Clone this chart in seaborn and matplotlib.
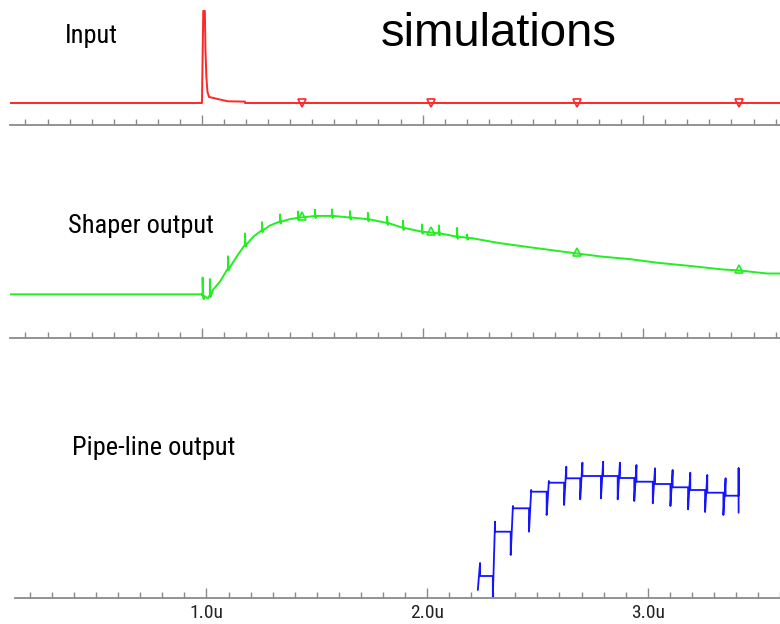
import numpy as np
import pandas as pd
import seaborn as sns
import matplotlib.pyplot as plt
from matplotlib import font_manager
from matplotlib.ticker import MultipleLocator

# time axis in microseconds
x_min, x_max = 0.13, 3.62

# Input pulse (normalised amplitude)
input_t = [0.13, 1.000, 1.003, 1.006, 1.013, 1.016, 1.020, 1.025, 1.032, 1.059, 1.082, 1.118, 1.195, 1.195, 3.62]
input_v = [0.0, 0.0, 0.50, 0.99, 0.99, 0.57, 0.28, 0.12, 0.065, 0.050, 0.037, 0.018, 0.015, 0.0, 0.0]

# Shaper output (normalised amplitude)
shaper_t = [0.13, 1.000, 1.009, 1.027, 1.051, 1.082, 1.119, 1.157, 1.195, 1.233, 1.271, 1.308, 1.354,
            1.399, 1.444, 1.520, 1.594, 1.748, 1.852, 1.911, 2.002, 2.079, 2.156, 2.228, 2.337, 2.455,
            2.564, 2.700, 2.818, 2.940, 3.063, 3.212, 3.362, 3.430, 3.561, 3.62]
shaper_v = [0.0, 0.0, -0.06, -0.05, 0.06, 0.16, 0.33, 0.47, 0.62, 0.72, 0.80, 0.86, 0.91,
            0.94, 0.96, 0.98, 0.98, 0.94, 0.885, 0.83, 0.78, 0.76, 0.72, 0.70, 0.645, 0.60,
            0.56, 0.51, 0.47, 0.44, 0.395, 0.355, 0.31, 0.30, 0.26, 0.26]
# clock feed-through glitches on the shaper
glitch_t = [1.003, 1.036, 1.118, 1.195, 1.272, 1.354, 1.435, 1.512, 1.589, 1.671, 1.752, 1.839,
            1.911, 1.997, 2.074, 2.156, 2.201]
glitch_h = [0.23, 0.20, 0.15, 0.14, 0.10, 0.09, 0.08, 0.08, 0.08, 0.08, 0.08, 0.08,
            0.09, 0.09, 0.10, 0.11, 0.04]

# Pipe-line output: clock edges, settled level, down / up glitch
pipe_t = [2.230, 2.298, 2.379, 2.462, 2.542, 2.621, 2.694, 2.788, 2.864, 2.939, 3.023, 3.103, 3.183, 3.260, 3.343]
pipe_level = [0.22, 0.663, 0.897, 1.063, 1.153, 1.197, 1.22, 1.22, 1.20, 1.163, 1.14, 1.107, 1.08, 1.053, 1.023]
pipe_low = [0.08, 0.013, 0.43, 0.663, 0.83, 0.93, 0.987, 0.997, 0.987, 0.97, 0.947, 0.92, 0.887, 0.86, 0.83]
pipe_high = [0.35, 0.763, 0.92, 1.08, 1.17, 1.313, 1.353, 1.363, 1.353, 1.33, 1.297, 1.28, 1.253, 1.23, 1.197]
pipe_end_t, pipe_end_low, pipe_end_high = 3.412, 0.853, 1.297

marker_t = [1.455, 2.036, 2.700, 3.436]
tick_labels = ["1.0u", "2.0u", "3.0u"]
panel_names = ["Input", "Shaper output", "Pipe-line output"]

# --- build the waveform paths ---
df_in = pd.DataFrame({"t": input_t, "v": input_v})

pts_t = list(shaper_t)
pts_v = list(shaper_v)
for t, h in zip(glitch_t, glitch_h):
    base = np.interp(t, shaper_t, shaper_v)
    pts_t += [t, t + 1e-5, t + 0.003, t + 0.006]
    pts_v += [base, base + h, base - 0.025, base]
order = np.argsort(pts_t, kind="stable")
df_sh = pd.DataFrame({"t": np.array(pts_t)[order], "v": np.array(pts_v)[order]})

p_t, p_v = [], []
d = 0.01
prev = None
for t, lvl, lo, hi in zip(pipe_t, pipe_level, pipe_low, pipe_high):
    if prev is not None:
        p_t.append(t); p_v.append(prev)
    p_t += [t, t + d, t + d]
    p_v += [lo, hi, lvl]
    prev = lvl
p_t += [pipe_end_t, pipe_end_t, pipe_end_t]
p_v += [prev, pipe_end_high, pipe_end_low]
df_pl = pd.DataFrame({"t": p_t, "v": p_v})

# --- fonts: pick a narrow face if one is installed ---
installed = {f.name for f in font_manager.fontManager.ttflist}
narrow = None
for name in ["Liberation Sans Narrow", "Roboto Condensed", "Noto Sans Condensed",
             "Open Sans Condensed", "DejaVu Sans Condensed", "Noto Sans Display Condensed"]:
    if name in installed:
        narrow = name
        break
if narrow is None:
    narrow_fam, label_size, tick_size = ["DejaVu Sans"], 16, 11
else:
    narrow_fam, label_size, tick_size = [narrow, "DejaVu Sans"], 19, 14

# --- figure ---
sns.set_style("white")
plt.rcParams["font.family"] = ["Liberation Sans", "DejaVu Sans"]

W, H = 780, 624
fig = plt.figure(figsize=(7.8, 6.24), dpi=100)
fig.patch.set_facecolor("white")
ax1 = fig.add_axes([10 / W, 1 - 125 / H, 770 / W, 125 / H])
ax2 = fig.add_axes([10 / W, 1 - 338 / H, 770 / W, 210 / H])
ax3 = fig.add_axes([14.5 / W, 1 - 598 / H, 770 / W, 258 / H])

red, green, blue = "#ff2626", "#22ee22", "#1414ff"
sns.lineplot(data=df_in, x="t", y="v", sort=False, estimator=None, color=red, lw=1.4, ax=ax1)
sns.lineplot(data=df_sh, x="t", y="v", sort=False, estimator=None, color=green, lw=1.4, ax=ax2)
sns.lineplot(data=df_pl, x="t", y="v", sort=False, estimator=None, color=blue, lw=1.3, ax=ax3)

ax1.plot(marker_t, np.interp(marker_t, input_t, input_v), ls="none", marker="v", ms=6,
         mfc="none", mec=red, mew=1.2)
ax2.plot(marker_t, np.interp(marker_t, shaper_t, shaper_v) + 0.02, ls="none", marker="^", ms=6,
         mfc="none", mec=green, mew=1.2)

ax1.set_ylim(-0.2366, 1.1075)
ax2.set_ylim(-0.546, 2.079)
ax3.set_ylim(0, 2.58)

for ax in (ax1, ax2, ax3):
    ax.set_xlim(x_min, x_max)
    ax.set(xlabel="", ylabel="")
    ax.set_yticks([])
    ax.patch.set_alpha(0)
    for s in ("top", "left", "right"):
        ax.spines[s].set_visible(False)
    ax.spines["bottom"].set_color("#8a8a8a")
    ax.spines["bottom"].set_linewidth(1.3)
    ax.xaxis.set_major_locator(MultipleLocator(1.0))
    ax.xaxis.set_minor_locator(MultipleLocator(0.1))
    ax.tick_params(axis="x", which="both", direction="in", color="#8a8a8a", width=1.0,
                   bottom=True, labelbottom=False)
    ax.tick_params(axis="x", which="major", length=7.5)
    ax.tick_params(axis="x", which="minor", length=4)

ax3.set_xticks([1, 2, 3], tick_labels)
ax3.tick_params(axis="x", which="major", labelbottom=True, pad=4, labelsize=tick_size,
                labelcolor="#222222")
for lab in ax3.get_xticklabels():
    lab.set_family(narrow_fam)
    lab.set_stretch("condensed")

label_font = dict(family=narrow_fam, stretch="condensed", fontsize=label_size,
                  color="black", va="baseline", ha="left")
fig.text(65 / W, 1 - 43 / H, panel_names[0], **label_font)
fig.text(68 / W, 1 - 233 / H, panel_names[1], **label_font)
fig.text(72 / W, 1 - 455 / H, panel_names[2], **label_font)

fig.text(381 / W, 1 - 46 / H, "simulations", fontsize=34, color="black", va="baseline", ha="left")

fig.savefig("out.png", dpi=100)
